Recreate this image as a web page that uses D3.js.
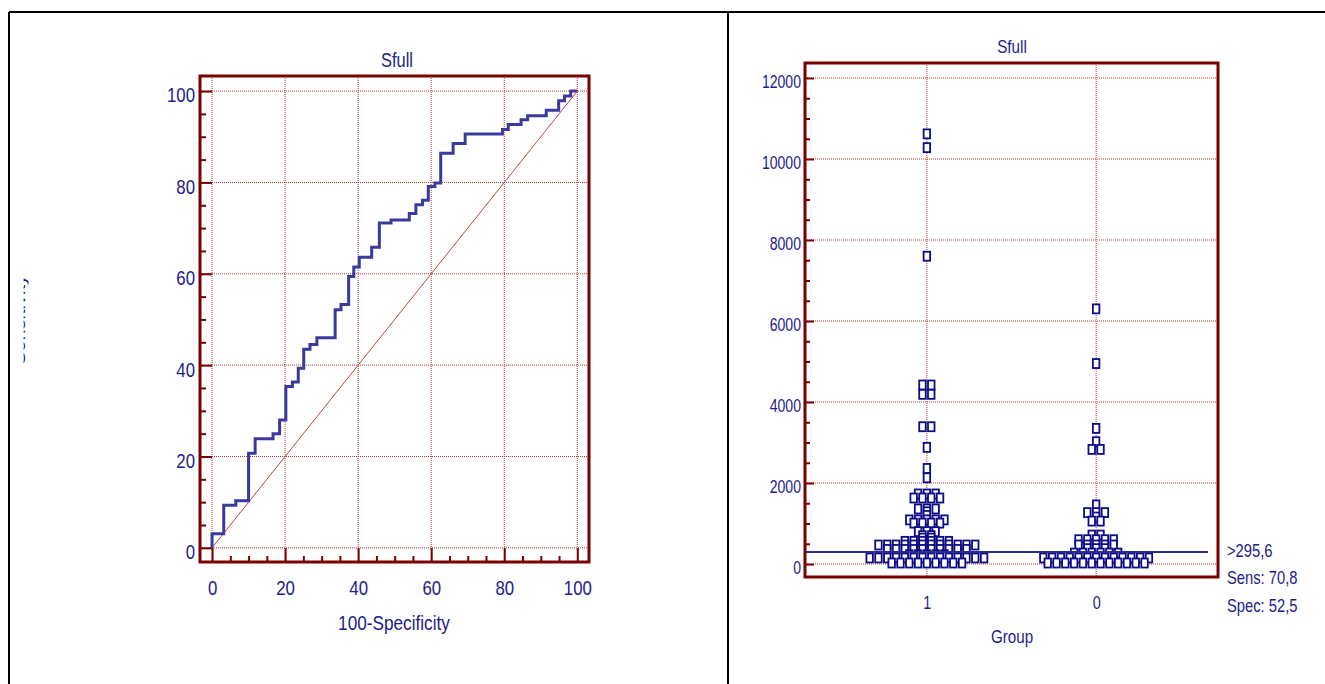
<!DOCTYPE html>
<html>
<head>
<meta charset="utf-8">
<script src="https://cdn.jsdelivr.net/npm/d3@7"></script>
<style>
html, body { margin: 0; padding: 0; background: #fff; }
svg { display: block; }
text { font-family: "Liberation Sans", Arial, sans-serif; fill: #1c1c8a; }
</style>
</head>
<body>
<svg id="chart" width="1325" height="684"></svg>
<script>
// ROC curve, step points (100-Specificity, Sensitivity)
var rocFpr = [0, 3.2, 6.5, 10.0, 11.8, 16.7, 18.5, 20.2, 22.0, 23.6, 25.1, 26.8, 28.7, 33.7, 35.3, 37.4, 38.8, 40.3, 43.7, 45.8,
    49.0, 54.0, 55.8, 57.6, 59.2, 61.0, 62.6, 66.0, 69.3, 79.5, 81.1, 84.6, 86.4, 91.5, 94.9, 96.5, 98.2, 100];
var rocTpr = [0, 3.1, 9.3, 10.3, 20.7, 23.9, 25.0, 28.0, 35.3, 36.3, 39.3, 43.5, 44.5, 46.0, 52.1, 53.3, 59.4, 61.5, 63.6, 65.8,
    71.1, 71.8, 73.2, 75.1, 76.1, 79.1, 79.9, 86.4, 88.5, 90.6, 91.6, 92.7, 93.7, 94.6, 95.8, 97.9, 98.9, 100];
var rocTicks = [0, 20, 40, 60, 80, 100];

// dot plot
var groups = ["1", "0"];
var group1Values = [10620, 10280, 7600, 4420, 4420, 4190, 4190, 3390, 3390, 2880, 2360, 2130,
    1730, 1730, 1730, 1630, 1630, 1630, 1630, 1360, 1360, 1360, 1290, 1200,
    1090, 1090, 1090, 1090, 1090, 1010, 1010, 1010, 1010, 800, 800, 800, 700, 700, 640, 640,
    560, 560, 560, 560, 560, 560,
    470, 470, 470, 470, 470, 470, 470, 470, 470, 470, 470, 470,
    360, 360, 360, 360, 360, 360, 360, 360, 360, 360,
    230, 230, 230, 230, 230,
    150, 150, 150, 150, 150, 150, 150, 150, 150, 150, 150, 150, 150, 150,
    25, 25, 25, 25, 25, 25, 25, 25, 25];
var group0Values = [6300, 4950, 3350, 3020, 2830, 2830,
    1460, 1270, 1270, 1270, 1160, 1060, 1060, 715, 715,
    600, 600, 600, 600, 600, 470, 470, 470, 470, 470, 380, 380, 380,
    270, 270, 270, 270, 270, 270,
    150, 150, 150, 150, 150, 150, 150, 150, 150, 150, 150, 150, 150,
    25, 25, 25, 25, 25, 25, 25, 25, 25, 25, 25, 25];
var dotTicks = [0, 2000, 4000, 6000, 8000, 10000, 12000];
var cutoff = 295.6;
var cutoffLabels = [">295,6", "Sens: 70,8", "Spec: 52,5"];

var frameColor = "#7a0000";
var gridColor = "#b03838";
var textColor = "#1c1c8a";
var svg = d3.select("#chart");

// the original uses a tall, narrow face: squeeze the text horizontally
function condense(sel, k) {
    sel.each(function () {
        var t = d3.select(this);
        var x = +t.attr("x") || 0;
        t.attr("x", x / k).attr("transform", "scale(" + k + ",1)");
    });
}
function label(g, x, y, size, k, txt, anchor) {
    g.append("text").attr("x", x).attr("y", y).attr("font-size", size)
        .attr("text-anchor", anchor || "middle").text(txt)
        .call(condense, k);
}

// page frame
svg.append("line").attr("x1", 9).attr("x2", 1325).attr("y1", 12).attr("y2", 12)
    .attr("stroke", "#000").attr("stroke-width", 2);
svg.append("line").attr("x1", 9).attr("x2", 9).attr("y1", 12).attr("y2", 684)
    .attr("stroke", "#000").attr("stroke-width", 2);
svg.append("line").attr("x1", 728).attr("x2", 728).attr("y1", 12).attr("y2", 684)
    .attr("stroke", "#000").attr("stroke-width", 2);

function styleAxis(g) {
    g.select(".domain").remove();
    g.selectAll(".tick line").attr("stroke", frameColor).attr("stroke-width", 2);
    g.selectAll(".tick text").attr("fill", textColor).attr("font-family", null);
}

// ---------- ROC plot ----------
var L = {left: 200, right: 589, top: 76, bottom: 562};
var rx = d3.scaleLinear().domain([-3.3, 103.2]).range([L.left, L.right]);
var ry = d3.scaleLinear().domain([-3.1, 103.3]).range([L.bottom, L.top]);

var lg = svg.append("g");
lg.selectAll(".gx").data(rocTicks).enter().append("line")
    .attr("x1", d => rx(d)).attr("x2", d => rx(d)).attr("y1", L.top).attr("y2", L.bottom)
    .attr("stroke", gridColor).attr("stroke-width", 1).attr("stroke-dasharray", "1,1");
lg.selectAll(".gy").data(rocTicks).enter().append("line")
    .attr("y1", d => ry(d)).attr("y2", d => ry(d)).attr("x1", L.left).attr("x2", L.right)
    .attr("stroke", gridColor).attr("stroke-width", 1).attr("stroke-dasharray", "1,1");

// reference diagonal
lg.append("line").attr("x1", rx(0)).attr("y1", ry(0)).attr("x2", rx(100)).attr("y2", ry(100))
    .attr("stroke", "#c04848").attr("stroke-width", 1);

var rocData = rocFpr.map((d, i) => [d, rocTpr[i]]);
lg.append("path").datum(rocData)
    .attr("d", d3.line().x(d => rx(d[0])).y(d => ry(d[1])).curve(d3.curveStepBefore))
    .attr("fill", "none").attr("stroke", "#3a3a9c").attr("stroke-width", 3);

var minorRoc = d3.range(0, 101, 5).filter(d => d % 20 != 0);
lg.append("g").attr("transform", "translate(" + L.left + ",0)")
    .call(d3.axisLeft(ry).tickValues(minorRoc).tickSize(-6).tickFormat(""))
    .call(styleAxis);
lg.append("g").attr("transform", "translate(0," + L.bottom + ")")
    .call(d3.axisBottom(rx).tickValues(minorRoc).tickSize(-6).tickFormat(""))
    .call(styleAxis);
lg.append("g").attr("transform", "translate(" + L.left + ",0)")
    .call(d3.axisLeft(ry).tickValues(rocTicks).tickSize(-12).tickPadding(5))
    .call(styleAxis)
    .call(g => g.selectAll(".tick text").attr("font-size", 21).attr("dy", "0.52em").call(condense, 0.8));
lg.append("g").attr("transform", "translate(0," + L.bottom + ")")
    .call(d3.axisBottom(rx).tickValues(rocTicks).tickSize(-14).tickPadding(19))
    .call(styleAxis)
    .call(g => g.selectAll(".tick text").attr("font-size", 21).attr("dy", "0.68em").call(condense, 0.8));

lg.append("rect").attr("x", L.left).attr("y", L.top)
    .attr("width", L.right - L.left).attr("height", L.bottom - L.top)
    .attr("fill", "none").attr("stroke", frameColor).attr("stroke-width", 3);

label(lg, 397, 67, 20, 0.82, "Sfull");
label(lg, 394, 630, 20, 0.86, "100-Specificity");

// y title is cut by the page edge, only a sliver of it shows
svg.append("clipPath").attr("id", "ytclip").append("rect")
    .attr("x", 23.6).attr("y", 0).attr("width", 5).attr("height", 684);
svg.append("g").attr("clip-path", "url(#ytclip)")
    .append("text")
    .attr("transform", "translate(25,320) rotate(-90)")
    .attr("text-anchor", "middle").attr("font-size", 20).attr("fill", "#3030b0")
    .text("Sensitivity");

// ---------- dot plot ----------
var R = {left: 805, right: 1218, top: 63, bottom: 577};
var dx = d3.scalePoint().domain(groups).range([R.left, R.right]).padding(0.72);
var dy = d3.scaleLinear().domain([-320, 12370]).range([R.bottom, R.top]);

var rg = svg.append("g");
rg.selectAll(".gy").data(dotTicks).enter().append("line")
    .attr("y1", d => dy(d)).attr("y2", d => dy(d)).attr("x1", R.left).attr("x2", R.right)
    .attr("stroke", gridColor).attr("stroke-width", 1).attr("stroke-dasharray", "1,1");
rg.selectAll(".gx").data(groups).enter().append("line")
    .attr("x1", d => dx(d)).attr("x2", d => dx(d)).attr("y1", R.top).attr("y2", R.bottom)
    .attr("stroke", gridColor).attr("stroke-width", 1).attr("stroke-dasharray", "1,1");

// points with the same value share a row, centred on the group
function layoutDots(values, group) {
    var bins = d3.group(values, v => Math.round(v / 20));
    var out = [];
    bins.forEach(function (vals) {
        var n = vals.length;
        vals.forEach(function (v, i) {
            out.push({value: v, off: (i - (n - 1) / 2) * 8.8, group: group});
        });
    });
    return out.sort((a, b) => b.value - a.value);
}
var dots = layoutDots(group1Values, "1").concat(layoutDots(group0Values, "0"));
rg.selectAll(".dot").data(dots).enter().append("rect")
    .attr("x", d => dx(d.group) + d.off - 3.25)
    .attr("y", d => dy(d.value) - 4.5)
    .attr("width", 6.5).attr("height", 9)
    .attr("fill", "#fff").attr("stroke", "#0c0c86").attr("stroke-width", 1.8);

rg.append("line").attr("x1", R.left).attr("x2", 1208)
    .attr("y1", dy(cutoff)).attr("y2", dy(cutoff))
    .attr("stroke", "#2c2c90").attr("stroke-width", 2);

var minorDot = d3.range(0, 12001, 500).filter(d => d % 2000 != 0);
rg.append("g").attr("transform", "translate(" + R.left + ",0)")
    .call(d3.axisLeft(dy).tickValues(minorDot).tickSize(-5).tickFormat(""))
    .call(styleAxis);
rg.append("g").attr("transform", "translate(" + R.left + ",0)")
    .call(d3.axisLeft(dy).tickValues(dotTicks).tickSize(-9).tickPadding(4).tickFormat(d3.format("d")))
    .call(styleAxis)
    .call(g => g.selectAll(".tick text").attr("font-size", 19).attr("dy", "0.5em").call(condense, 0.74));
rg.append("g").attr("transform", "translate(0," + R.bottom + ")")
    .call(d3.axisBottom(dx).tickSize(0).tickPadding(19))
    .call(styleAxis)
    .call(g => g.selectAll(".tick text").attr("font-size", 18).call(condense, 0.8));

rg.append("rect").attr("x", R.left).attr("y", R.top)
    .attr("width", R.right - R.left).attr("height", R.bottom - R.top)
    .attr("fill", "none").attr("stroke", frameColor).attr("stroke-width", 3);

label(rg, 1012, 53, 19, 0.8, "Sfull");
label(rg, 1012, 643, 19, 0.8, "Group");
cutoffLabels.forEach(function (t, i) {
    label(rg, 1227, 557 + i * 27.5, 18, 0.82, t, "start");
});
</script>
</body>
</html>
